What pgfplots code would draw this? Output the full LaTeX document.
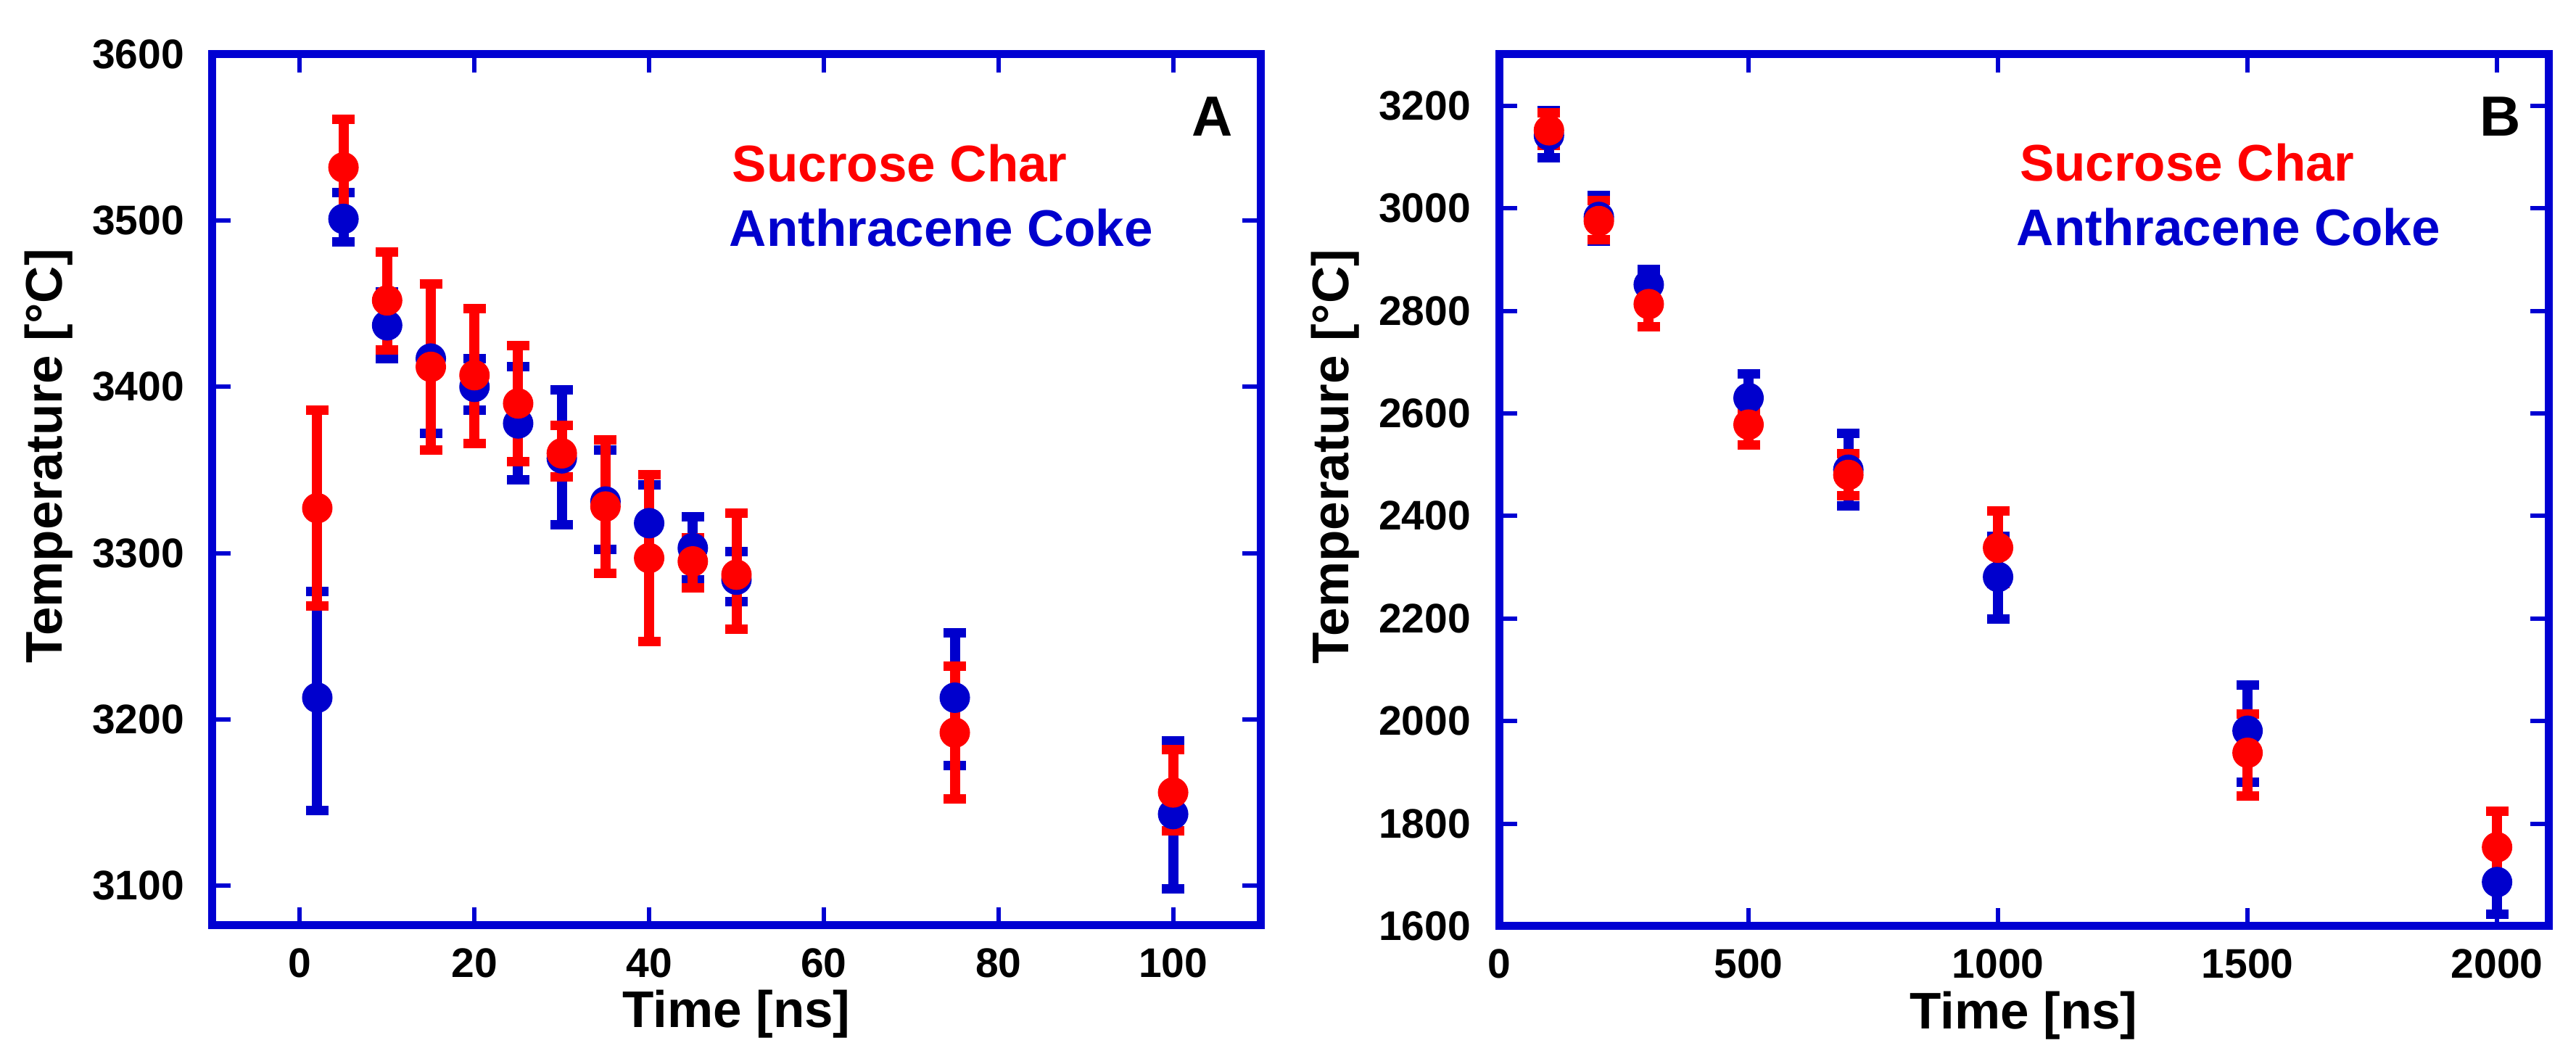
\documentclass[border=0pt]{standalone}
\usepackage{fontspec}
\setmainfont{Liberation Sans}
\usepackage{pgfplots}
\pgfplotsset{compat=1.18}
\usepackage{pgfplotstable}
\definecolor{axblue}{RGB}{0,0,210}
\definecolor{dblue}{RGB}{0,0,205}
\definecolor{dred}{RGB}{255,0,0}

\pgfplotstableread{
x y ep em
2 3327 59 59
5 3532 29 29
10 3452 29 30
15 3412 50 50
20 3407 40 41
25 3390 35 35
30 3360 17 14
35 3328 40 40
40 3297 50 50
45 3295 14 16
50 3287 37 33
75 3192 40 40
100 3156 26 23
}\redA

\pgfplotstableread{
x y ep em
2 3213 64 68
5 3501 16 14
10 3437 20 20
15 3417 45 45
20 3400 17 14
25 3378 34 34
30 3357 41 40
35 3331 31 29
40 3318 23 20
45 3303 19 19
50 3284 17 13
75 3213 39 41
100 3143 44 45
}\blueA

\pgfplotstableread{
x y ep em
100 3152 34 30
200 2975 40 36
300 2813 44 44
500 2578 28 40
700 2480 41 41
1000 2338 71 70
1500 1938 75 84
2000 1754 70 65
}\redB

\pgfplotstableread{
x y ep em
100 3142 48 44
200 2983 42 47
300 2851 29 30
500 2630 47 40
700 2490 71 71
1000 2281 79 82
1500 1981 89 100
2000 1686 62 62
}\blueB

\tikzset{
  legtxt/.style={anchor=base west, inner sep=0pt, font=\fontsize{14.2}{16}\selectfont\bfseries},
  pantxt/.style={anchor=base west, inner sep=0pt, font=\fontsize{15.6}{18}\selectfont\bfseries},
}

\pgfplotsset{
  myaxis/.style={
    scale only axis,
    axis line style={draw=axblue, line width=2.2pt},
    tick style={draw=axblue, line width=1.2pt},
    major tick length=5pt,
    tick align=inside,
    /pgf/number format/assume math mode=true,
    /pgf/number format/1000 sep={},
    tick label style={font=\fontsize{11.4}{13}\selectfont\bfseries, text=black},
    yticklabel style={anchor=east, inner sep=0pt, xshift=-7.6pt},
    xticklabel style={anchor=north, inner sep=0pt, yshift=-6.2pt},
    label style={font=\fontsize{14.2}{16}\selectfont\bfseries},
    xlabel style={at={(axis description cs:0.5,-0.1174)}, anchor=base},
    ylabel style={at={(axis description cs:-0.1433,0.5387)}, anchor=base},
  },
  ebars/.style={draw=none, mark=none, forget plot,
    error bars/.cd, y dir=both, y explicit,
    error bar style={draw=#1, line width=2.8pt, solid},
    error mark options={rotate=90, draw=#1, line width=2.6pt, mark size=3.1pt, solid}},
  dots/.style={only marks, mark=*, mark size=4pt, mark options={draw=#1, fill=#1, solid}},
}

\begin{document}
\begin{tikzpicture}
\useasboundingbox (0,0) rectangle (710.4pt,293.4pt);

\begin{axis}[myaxis, at={(58.6pt,38.2pt)}, anchor=south west,
  width=289pt, height=240.2pt,
  xmin=-10, xmax=110, ymin=3076, ymax=3600,
  xtick={0,20,40,60,80,100}, ytick={3100,3200,3300,3400,3500,3600},
  xlabel={Time [ns]}, ylabel={Temperature [°C]}]
\addplot[ebars=dblue] table[x=x, y=y, y error plus=ep, y error minus=em] {\blueA};
\addplot[ebars=dred] table[x=x, y=y, y error plus=ep, y error minus=em] {\redA};
\addplot[dots=dblue] table[x=x, y=y] {\blueA};
\addplot[dots=dred] table[x=x, y=y] {\redA};
\node[legtxt, text=dred] at (rel axis cs:0.4955,0.8535) {Sucrose Char};
\node[legtxt, text=dblue] at (rel axis cs:0.4927,0.7794) {Anthracene Coke};
\node[pantxt] at (rel axis cs:0.934,0.906) {A};
\end{axis}

\begin{axis}[myaxis, at={(413.4pt,38pt)}, anchor=south west,
  width=289.4pt, height=240.4pt,
  xmin=0, xmax=2103, ymin=1600, ymax=3300,
  xtick={0,500,1000,1500,2000}, ytick={1600,1800,2000,2200,2400,2600,2800,3000,3200},
  xlabel={Time [ns]}, ylabel={Temperature [°C]}]
\addplot[ebars=dblue] table[x=x, y=y, y error plus=ep, y error minus=em] {\blueB};
\addplot[ebars=dred] table[x=x, y=y, y error plus=ep, y error minus=em] {\redB};
\addplot[dots=dblue] table[x=x, y=y] {\blueB};
\addplot[dots=dred] table[x=x, y=y] {\redB};
\node[legtxt, text=dred] at (rel axis cs:0.4955,0.8544) {Sucrose Char};
\node[legtxt, text=dblue] at (rel axis cs:0.4927,0.7804) {Anthracene Coke};
\node[pantxt] at (rel axis cs:0.934,0.906) {B};
\end{axis}
\end{tikzpicture}
\end{document}
